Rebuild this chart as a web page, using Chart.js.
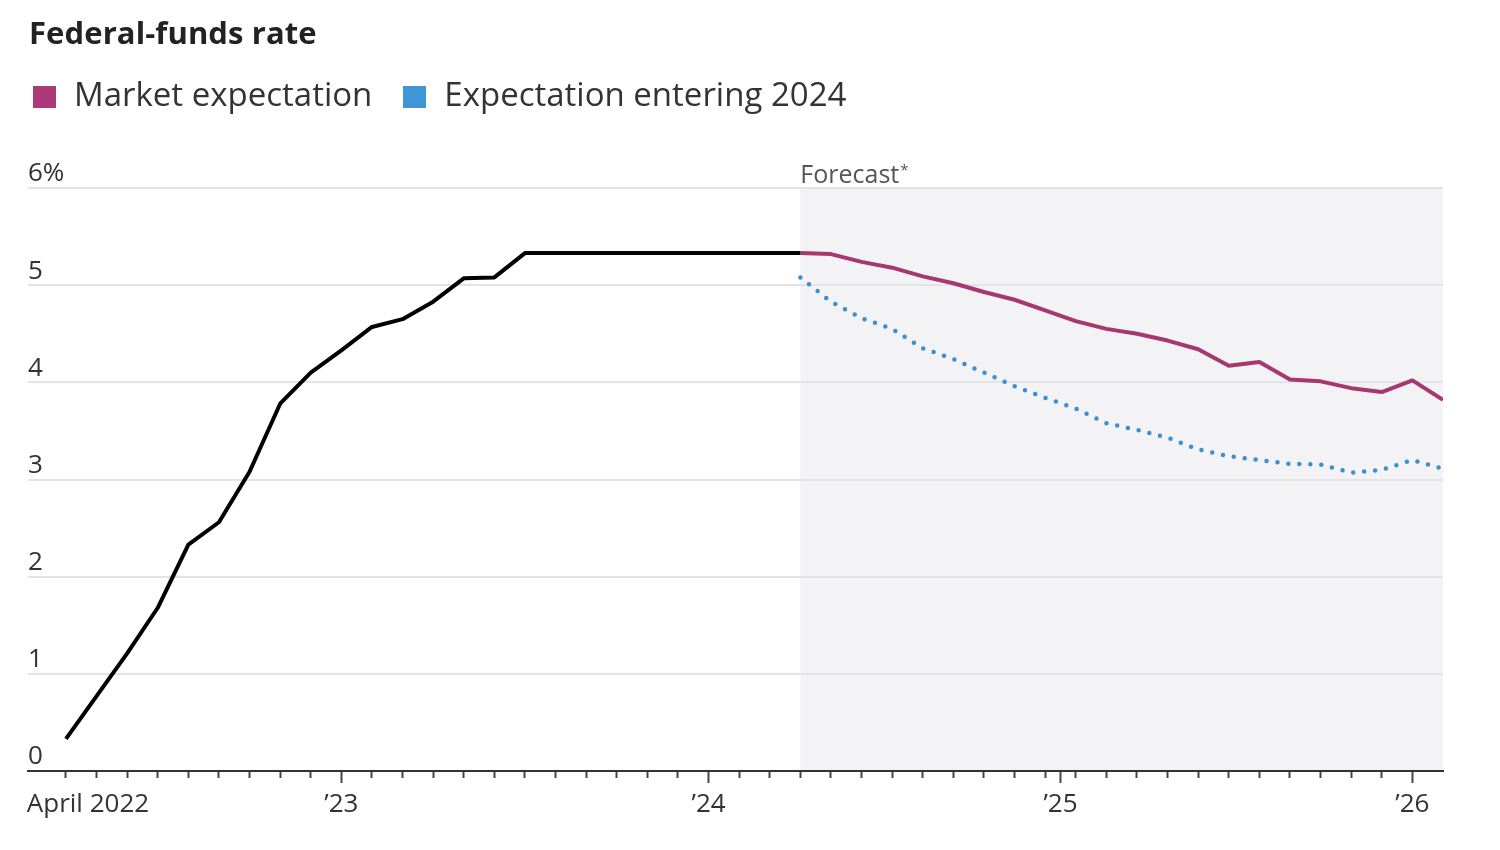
<!DOCTYPE html>
<html><head><meta charset="utf-8">
<script src="https://cdn.jsdelivr.net/npm/chart.js@4.4.1/dist/chart.umd.min.js"></script>
<style>
html,body{margin:0;padding:0;background:#fff;}
#wrap{position:relative;width:1500px;height:850px;overflow:hidden;}
#c{position:absolute;left:0;top:0;}
#title{position:absolute;left:29px;top:11px;font:700 31px "Open Sans",sans-serif;color:#222;letter-spacing:0.1px;white-space:nowrap}
#legend{position:absolute;left:33px;top:71px;font:33px "Open Sans",sans-serif;color:#333;white-space:nowrap;display:flex;align-items:center}
.sw{width:23px;height:22px;display:inline-block;margin-right:18px;margin-top:7px}
.item{display:flex;align-items:center;margin-right:31px}
</style></head>
<body><div id="wrap">
<canvas id="c" width="1500" height="850"></canvas>
<div id="title">Federal-funds rate</div>
<div id="legend"></div>
</div>
<script>
// ---- data (x = months since April 2022) ----
const histMonths = [0,1,2,3,4,5,6,7,8,9,10,11,12,13,14,15,16,17,18,19,20,21,22,23,24];
const histRate   = [0.33,0.77,1.21,1.68,2.33,2.56,3.08,3.78,4.10,4.33,4.57,4.65,4.83,5.07,5.08,5.33,5.33,5.33,5.33,5.33,5.33,5.33,5.33,5.33,5.33];
const fcMonths   = [24,25,26,27,28,29,30,31,32,33,34,35,36,37,38,39,40,41,42,43,44,45];
const marketExp  = [5.33,5.32,5.24,5.18,5.09,5.02,4.93,4.85,4.74,4.63,4.55,4.50,4.43,4.34,4.17,4.21,4.03,4.01,3.94,3.90,4.02,3.82];
const entering24 = [5.08,4.83,4.66,4.55,4.35,4.24,4.10,3.96,3.84,3.73,3.58,3.51,3.43,3.31,3.24,3.20,3.16,3.155,3.07,3.10,3.20,3.11];
const seriesNames  = ['Market expectation','Expectation entering 2024'];
const seriesColors = ['#a5386f','#3a8fd1'];
const legendColors = ['#ad3a78','#3f95d6'];
const yTicks = [0,1,2,3,4,5,6];
const xLabelValues = [0.72, 9, 21, 32.5, 44];
const xLabelTexts  = ['April 2022', '\u201923', '\u201924', '\u201925', '\u201926'];
const minorTickMonths = [0,1,2,3,4,5,6,7,8,9,10,11,12,13,14,15,16,17,18,19,20,21,22,23,24,25,26,27,28,29,30,31,32,33,34,35,36,37,38,39,40,41,42,43];
const majorTickValues = [9, 21, 32.5, 44];
const forecastStart = 24;

// legend (HTML)
const lg = document.getElementById('legend');
seriesNames.forEach((n,i)=>{
  const it = document.createElement('span'); it.className='item';
  const sw = document.createElement('span'); sw.className='sw'; sw.style.background = legendColors[i];
  it.appendChild(sw); it.appendChild(document.createTextNode(n)); lg.appendChild(it);
});

const tickFont = {family:'"Open Sans", sans-serif', size:26};
const shade = {
  id:'shade',
  beforeDraw(chart){
    const {ctx, chartArea:a, scales:{x}} = chart;
    const x0 = x.getPixelForValue(forecastStart);
    ctx.save();
    ctx.fillStyle = '#f3f3f6';
    ctx.fillRect(x0, a.top, a.right - x0, a.bottom - a.top);
    ctx.fillStyle = '#555';
    ctx.font = '25px "Open Sans", sans-serif';
    ctx.textBaseline = 'alphabetic';
    ctx.fillText('Forecast', x0 + 0, a.top - 5);
    const w = ctx.measureText('Forecast').width;
    ctx.font = '15px "Open Sans", sans-serif';
    ctx.fillText('*', x0 + 1 + w, a.top - 13);
    ctx.restore();
  }
};

const allXTicks = minorTickMonths.concat(majorTickValues.filter(v=>!minorTickMonths.includes(v))).concat([xLabelValues[0]]).sort((a,b)=>a-b);
const labelFor = v => { const i = xLabelValues.indexOf(v); return i >= 0 ? xLabelTexts[i] : ''; };

new Chart(document.getElementById('c'), {
  type:'line',
  data:{datasets:[
    {label:'History', data: histMonths.map((m,i)=>({x:m,y:histRate[i]})), borderColor:'#000', borderWidth:4, pointRadius:0, tension:0, borderJoinStyle:'round'},
    {label:seriesNames[0], data: fcMonths.map((m,i)=>({x:m,y:marketExp[i]})), borderColor:seriesColors[0], borderWidth:4, pointRadius:0, tension:0, borderJoinStyle:'round'},
    {label:seriesNames[1], data: fcMonths.map((m,i)=>({x:m,y:entering24[i]})), borderColor:seriesColors[1], borderWidth:4.5, borderDash:[0,11], borderCapStyle:'round', pointRadius:0, tension:0}
  ]},
  options:{
    responsive:false, animation:false, events:[],
    layout:{padding:{left:28, right:57, top:188, bottom:0}},
    plugins:{legend:{display:false}, tooltip:{enabled:false}, title:{display:false}},
    scales:{
      x:{type:'linear', min:-1.24, max:45,
        afterBuildTicks: s => { s.ticks = allXTicks.map(v=>({value:v})); },
        afterFit: s => { s.height = 79; },
        grid:{drawOnChartArea:false, drawTicks:true, tickLength:12, tickWidth:2,
          tickColor: c => (c.tick && c.tick.value === xLabelValues[0]) ? 'rgba(0,0,0,0)' : '#444',
          tickBorderDash: c => (c.tick && majorTickValues.includes(c.tick.value)) ? [] : [6,100]},
        border:{color:'#333', width:2},
        ticks:{autoSkip:false, maxRotation:0, minRotation:0, padding:6, font:tickFont, color:'#333',
          callback: v => labelFor(v)}
      },
      y:{min:0, max:6,
        afterBuildTicks: s => { s.ticks = yTicks.map(v=>({value:v})); },
        afterFit: s => { s.width = 0; },
        grid:{color:'#e4e4e4', lineWidth:2, drawTicks:false},
        border:{display:false},
        ticks:{mirror:true, padding:0, labelOffset:-14, font:tickFont, color:'#333',
          callback: v => v === 6 ? '6%' : String(v)}
      }
    }
  },
  plugins:[shade]
});
</script>
</body></html>
